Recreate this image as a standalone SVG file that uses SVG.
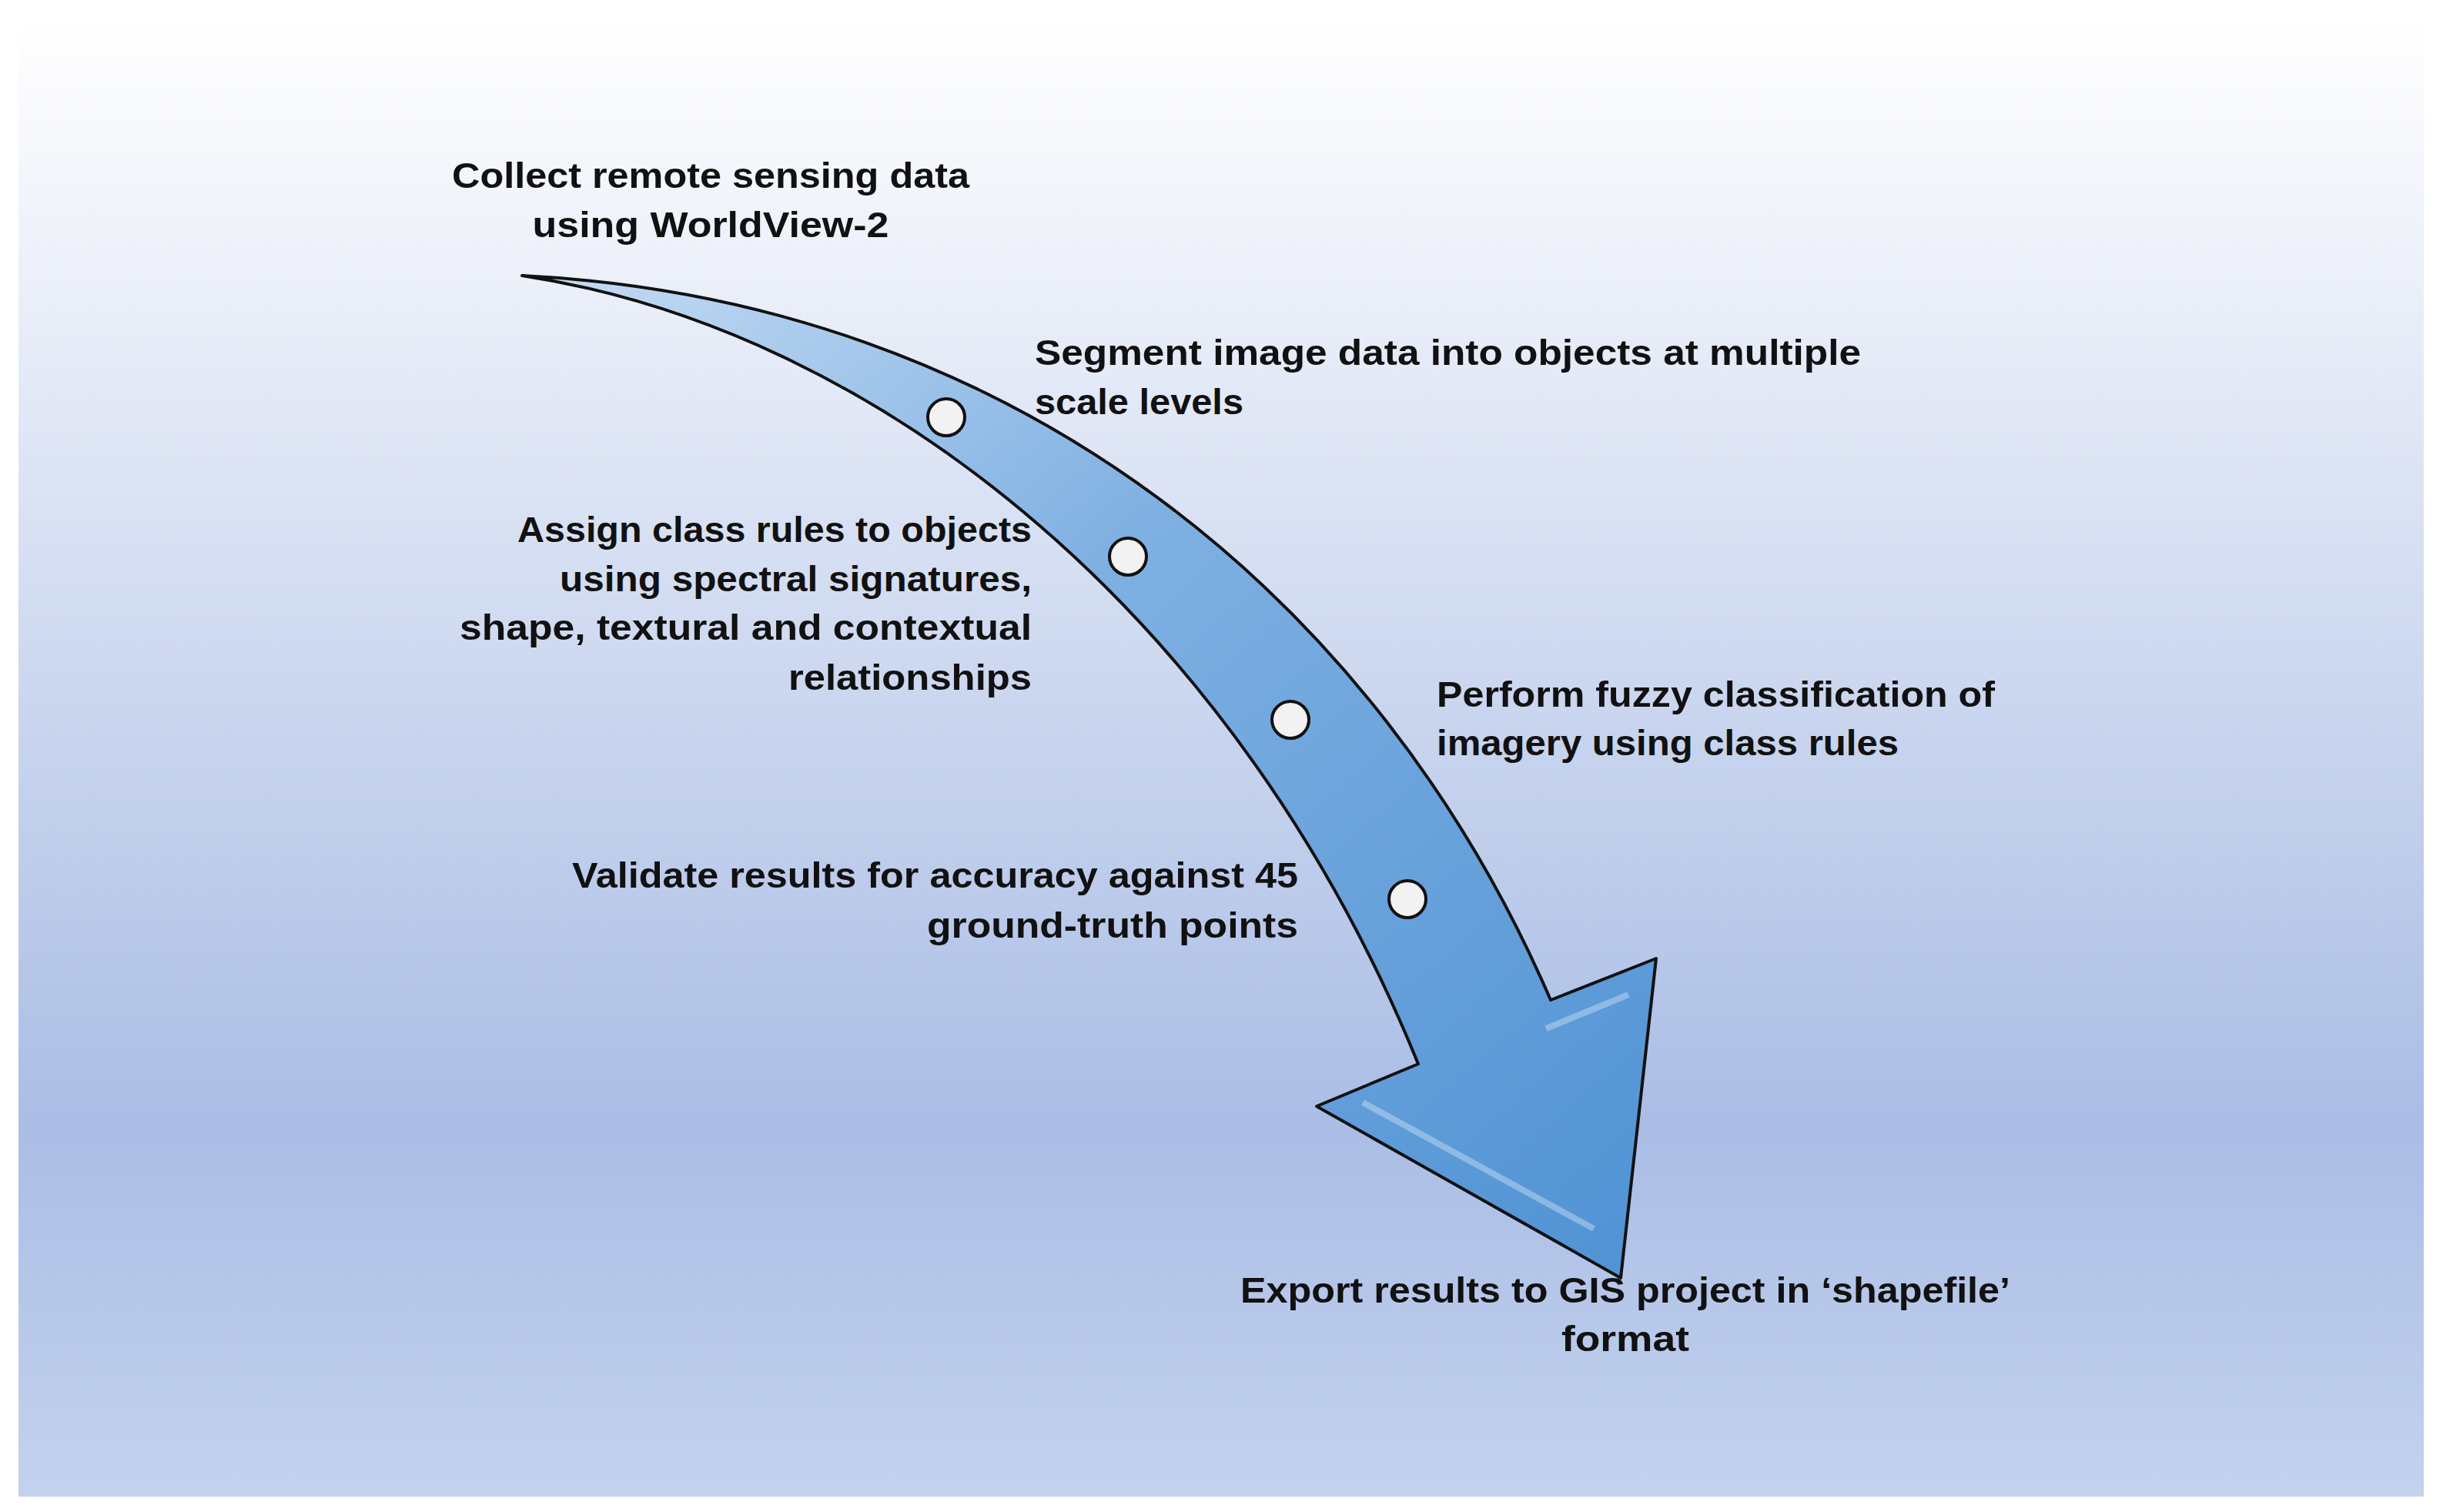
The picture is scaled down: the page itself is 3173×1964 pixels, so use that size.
<svg xmlns="http://www.w3.org/2000/svg" width="3173" height="1964" viewBox="0 0 3173 1964">
<defs>
<linearGradient id="bg" x1="0" y1="0" x2="0" y2="1">
<stop offset="0" stop-color="#ffffff"/>
<stop offset="0.75" stop-color="#aabde5"/>
<stop offset="1" stop-color="#c3d2ee"/>
</linearGradient>
<linearGradient id="ar" x1="0" y1="0" x2="1" y2="1">
<stop offset="0" stop-color="#c6dcf4"/>
<stop offset="0.4" stop-color="#7fb0e2"/>
<stop offset="1" stop-color="#4f92d4"/>
</linearGradient>
<style>
text{font-family:"Liberation Sans",Arial,sans-serif;font-weight:bold;font-size:46px;fill:#111}
.dot{fill:#f2f2f2;stroke:#111;stroke-width:4}
</style>
</defs>
<rect x="0" y="0" width="3173" height="1964" fill="#fff"/>
<rect x="24" y="24" width="3124" height="1920" fill="url(#bg)"/>
<g id="arrow">
<path d="M678,358 C1150,430 1610,810 1842,1382 L1710,1437 L2105,1660 L2151,1245 L2014,1299 C1790,780 1320,390 678,358 Z" fill="url(#ar)" stroke="#111" stroke-width="4" stroke-linejoin="round"/>
<path d="M1770,1432 L2070,1596 M2008,1336 L2115,1292" stroke="#dcebfa" stroke-width="8" opacity="0.4" fill="none"/>
</g>
<g id="connectors">
<circle class="dot" cx="1229" cy="542" r="24"/>
<circle class="dot" cx="1465" cy="723" r="24"/>
<circle class="dot" cx="1676" cy="935" r="24"/>
<circle class="dot" cx="1828" cy="1168" r="24"/>
</g>
<g id="n1" text-anchor="middle">
<text x="923" y="244" textLength="672" lengthAdjust="spacingAndGlyphs">Collect remote sensing data</text>
<text x="923" y="308" textLength="463" lengthAdjust="spacingAndGlyphs">using WorldView-2</text>
</g>
<g id="n2">
<text x="1344" y="474" textLength="1073" lengthAdjust="spacingAndGlyphs">Segment image data into objects at multiple</text>
<text x="1344" y="538" textLength="271" lengthAdjust="spacingAndGlyphs">scale levels</text>
</g>
<g id="n3" text-anchor="end">
<text x="1340" y="704" textLength="668" lengthAdjust="spacingAndGlyphs">Assign class rules to objects</text>
<text x="1340" y="768" textLength="613" lengthAdjust="spacingAndGlyphs">using spectral signatures,</text>
<text x="1340" y="831" textLength="743" lengthAdjust="spacingAndGlyphs">shape, textural and contextual</text>
<text x="1340" y="896" textLength="316" lengthAdjust="spacingAndGlyphs">relationships</text>
</g>
<g id="n4">
<text x="1866" y="918" textLength="725" lengthAdjust="spacingAndGlyphs">Perform fuzzy classification of</text>
<text x="1866" y="981" textLength="600" lengthAdjust="spacingAndGlyphs">imagery using class rules</text>
</g>
<g id="n5" text-anchor="end">
<text x="1686" y="1153" textLength="943" lengthAdjust="spacingAndGlyphs">Validate results for accuracy against 45</text>
<text x="1686" y="1218" textLength="482" lengthAdjust="spacingAndGlyphs">ground-truth points</text>
</g>
<g id="n6" text-anchor="middle">
<text x="2111" y="1692" textLength="1000" lengthAdjust="spacingAndGlyphs">Export results to GIS project in ‘shapefile’</text>
<text x="2111" y="1755" textLength="166" lengthAdjust="spacingAndGlyphs">format</text>
</g>
</svg>
